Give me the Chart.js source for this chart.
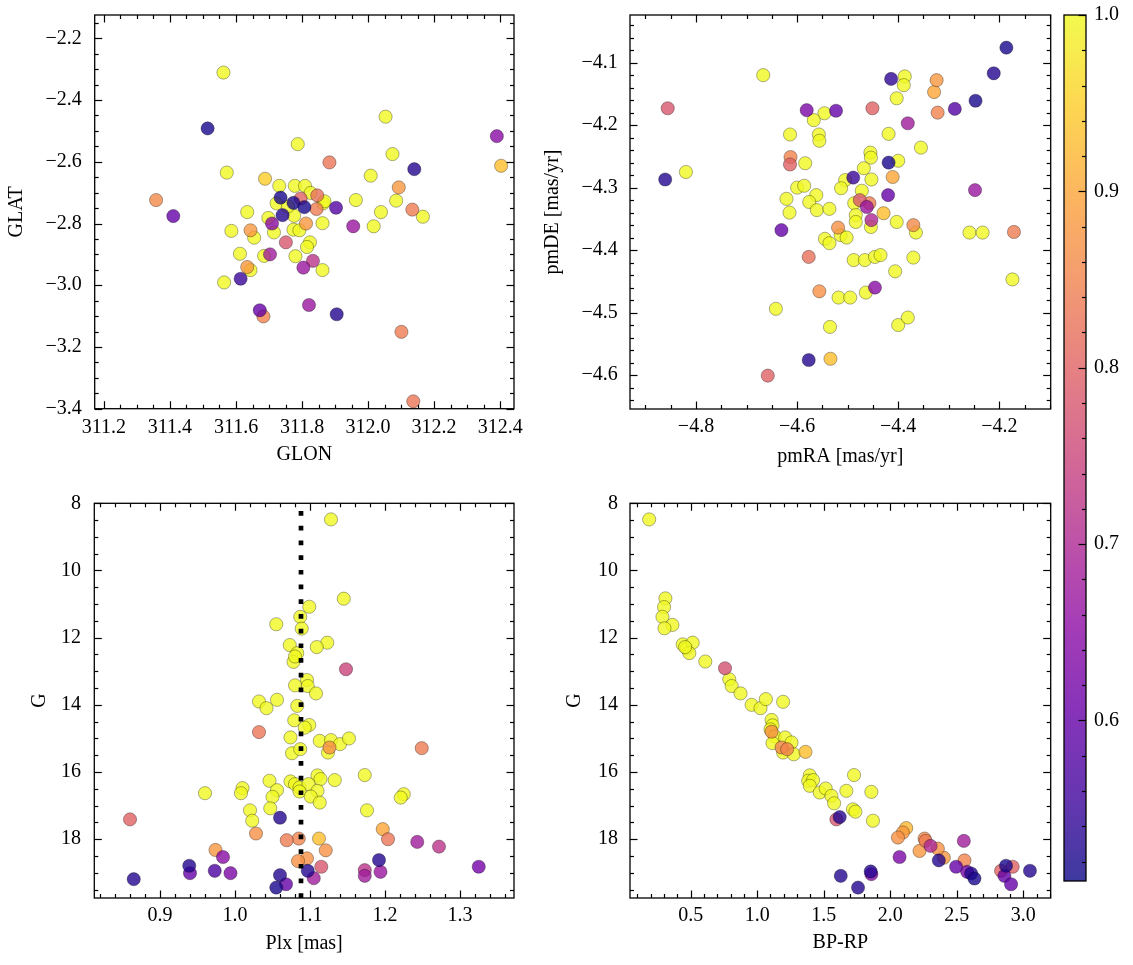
<!DOCTYPE html>
<html><head><meta charset="utf-8">
<script src="https://cdn.jsdelivr.net/npm/chart.js@4.4.0/dist/chart.umd.min.js"></script>
<style>
html,body{margin:0;padding:0;background:#fff;}
#wrap{position:relative;width:1133px;height:965px;overflow:hidden;background:#fff;}
canvas{position:absolute;}
</style></head><body>
<div id="wrap">
<canvas id="cA" width="530" height="470" style="left:0;top:0;width:530px;height:470px"></canvas>
<canvas id="cB" width="532" height="470" style="left:530px;top:0;width:532px;height:470px"></canvas>
<canvas id="cC" width="530" height="470" style="left:0;top:490px;width:530px;height:470px"></canvas>
<canvas id="cD" width="532" height="470" style="left:530px;top:490px;width:532px;height:470px"></canvas>
<canvas id="cCB" width="78" height="965" style="left:1055px;top:0;width:78px;height:965px"></canvas>
</div>
<script>
// ---------- data ----------
const glon = [311.562,311.514,312.053,311.787,312.390,312.403,312.074,311.883,312.140,311.572,312.008,311.688,311.731,311.778,311.809,312.093,311.358,311.846,311.864,311.963,312.085,311.723,311.634,311.776,312.039,312.166,311.862,311.698,311.796,311.844,312.134,311.735,311.774,311.807,311.903,311.410,311.741,311.709,311.812,311.955,312.017,311.586,311.655,311.644,311.715,311.774,311.792,311.751,311.824,311.815,311.612,311.685,311.703,311.780,311.833,311.862,311.804,311.644,311.634,311.564,311.614,311.683,311.672,311.821,311.905,312.101,312.137,311.826,311.868,311.757];
const glat = [-2.311,-2.492,-2.454,-2.543,-2.517,-2.613,-2.575,-2.602,-2.624,-2.635,-2.645,-2.655,-2.678,-2.678,-2.678,-2.683,-2.724,-2.709,-2.735,-2.724,-2.726,-2.735,-2.763,-2.775,-2.763,-2.778,-2.799,-2.782,-2.719,-2.753,-2.755,-2.716,-2.733,-2.747,-2.749,-2.776,-2.773,-2.800,-2.800,-2.809,-2.809,-2.824,-2.846,-2.822,-2.829,-2.820,-2.822,-2.861,-2.861,-2.876,-2.898,-2.905,-2.900,-2.906,-2.921,-2.951,-2.943,-2.951,-2.941,-2.991,-2.979,-3.101,-3.081,-3.064,-3.094,-3.151,-3.376,-2.701,-2.728,-2.745];
const probA = [1,0.52,1,1,0.65,0.93,1,0.83,0.53,1,1,0.95,1,1,1,0.88,0.86,0.82,1,1,1,1,1,1,1,1,1,1,0.8,0.84,0.84,0.52,0.52,0.52,0.58,0.6,0.53,0.65,0.88,0.67,1,1,1,0.88,1,1,1,0.78,1,1,1,1,0.68,1,0.72,1,0.67,1,0.88,1,0.55,0.85,0.6,0.67,0.53,0.84,0.83,1,1,1];

const pmra = [-4.186,-4.211,-4.667,-4.414,-4.387,-4.389,-4.324,-4.329,-4.247,-4.403,-4.856,-4.581,-4.523,-4.546,-4.567,-4.451,-4.288,-4.322,-4.381,-4.614,-4.557,-4.556,-4.419,-4.355,-4.613,-4.614,-4.584,-4.455,-4.454,-4.419,-4.400,-4.468,-4.820,-4.861,-4.489,-4.505,-4.453,-4.411,-4.513,-4.600,-4.586,-4.621,-4.615,-4.562,-4.576,-4.561,-4.536,-4.472,-4.487,-4.420,-4.476,-4.457,-4.462,-4.429,-4.484,-4.484,-4.453,-4.454,-4.403,-4.631,-4.519,-4.514,-4.502,-4.545,-4.536,-4.370,-4.365,-4.259,-4.233,-4.171,-4.248,-4.577,-4.488,-4.466,-4.446,-4.435,-4.370,-4.406,-4.174,-4.556,-4.518,-4.495,-4.464,-4.446,-4.642,-4.535,-4.400,-4.381,-4.577,-4.534,-4.658];
const pmde = [-4.076,-4.117,-4.120,-4.126,-4.122,-4.136,-4.128,-4.147,-4.161,-4.157,-4.173,-4.176,-4.177,-4.181,-4.192,-4.173,-4.174,-4.180,-4.197,-4.215,-4.215,-4.225,-4.214,-4.236,-4.251,-4.263,-4.261,-4.244,-4.252,-4.260,-4.257,-4.269,-4.275,-4.287,-4.284,-4.288,-4.287,-4.283,-4.301,-4.300,-4.297,-4.318,-4.340,-4.312,-4.323,-4.336,-4.334,-4.305,-4.325,-4.312,-4.320,-4.325,-4.331,-4.341,-4.344,-4.355,-4.352,-4.363,-4.355,-4.368,-4.364,-4.376,-4.380,-4.382,-4.389,-4.360,-4.372,-4.372,-4.372,-4.371,-4.304,-4.411,-4.416,-4.416,-4.411,-4.408,-4.412,-4.434,-4.447,-4.466,-4.476,-4.476,-4.468,-4.460,-4.494,-4.523,-4.520,-4.508,-4.576,-4.574,-4.601];
const probB = [0.52,0.53,1,0.54,1,1,0.88,0.9,0.52,1,0.78,0.63,0.6,1,1,0.8,0.58,0.85,0.68,1,1,1,1,1,0.85,0.8,1,1,1,0.52,1,1,1,0.53,0.55,1,1,0.9,1,1,1,1,1,1,1,1,1,1,1,0.6,0.78,0.84,0.67,0.93,1,1,0.7,1,1,0.6,0.87,1,1,1,1,0.86,1,1,1,0.84,0.67,0.82,1,1,1,1,1,1,1,0.87,1,1,1,0.65,1,1,1,1,0.53,0.93,0.8];

const plx = [1.128,1.145,1.099,1.087,1.089,1.055,1.073,1.123,1.109,1.083,1.078,1.080,1.148,1.096,1.080,1.097,1.108,1.032,1.042,1.056,1.083,1.079,1.099,1.093,1.032,1.074,1.076,1.087,1.113,1.128,1.140,1.152,1.124,1.126,1.249,1.110,1.114,1.133,1.173,1.074,1.080,1.086,1.098,1.110,1.086,1.101,1.113,1.046,1.056,1.050,1.010,1.008,0.960,1.225,1.221,1.176,1.020,1.047,1.023,0.860,1.060,1.028,1.069,1.085,1.112,1.197,1.204,1.243,1.272,1.325,0.974,0.984,1.121,1.096,1.084,1.115,1.192,0.939,0.940,0.973,0.994,0.865,1.060,1.068,1.055,1.097,1.105,1.173,1.173,1.194];
const gmagC = [8.48,10.84,11.08,11.38,11.73,11.60,12.22,12.15,12.28,12.46,12.72,12.56,12.94,13.26,13.42,13.44,13.66,13.90,14.10,13.85,14.03,14.46,14.60,14.68,14.81,14.97,15.44,15.32,15.07,15.05,15.17,15.00,15.42,15.27,15.29,16.10,16.21,16.24,16.09,16.28,16.36,16.46,16.36,16.56,16.58,16.73,16.91,16.26,16.54,16.74,16.48,16.63,16.63,16.66,16.76,17.14,17.14,17.08,17.45,17.41,17.36,17.83,18.03,17.98,17.98,17.70,18.00,18.08,18.22,18.82,18.32,18.53,18.33,18.57,18.65,18.82,18.62,18.79,19.01,18.94,19.01,19.19,19.07,19.34,19.44,18.94,19.16,18.92,19.09,18.97];
const probC = [1,1,1,1,1,1,1,1,1,1,1,1,0.75,1,1,1,1,1,1,1,1,1,1,1,0.83,1,1,1,1,1,1,1,1,0.87,0.84,1,1,1,1,1,1,1,1,1,1,1,1,1,1,1,1,1,1,1,1,1,1,1,1,0.8,0.53,0.87,0.84,0.85,0.93,0.9,0.83,0.68,0.72,0.62,0.88,0.65,0.87,0.87,0.87,0.78,0.53,0.53,0.6,0.57,0.63,0.53,0.53,0.6,0.52,0.53,0.68,0.72,0.68,0.67];

const bprp = [0.188,0.310,0.300,0.288,0.363,0.303,0.440,0.470,0.515,0.490,0.458,0.610,0.758,0.790,0.808,0.875,0.958,1.025,1.065,1.195,1.108,1.115,1.100,1.108,1.133,1.210,1.115,1.258,1.183,1.225,1.195,1.275,1.363,1.395,1.383,1.420,1.395,1.470,1.515,1.558,1.578,1.670,1.728,1.720,1.738,1.858,1.870,1.595,1.620,2.120,2.095,2.058,2.258,2.265,2.303,2.220,2.358,2.403,2.365,2.070,2.553,2.558,2.495,2.578,2.608,2.633,1.628,1.758,1.853,1.858,2.833,2.920,2.870,2.858,2.908,3.050];
const gmagD = [8.48,10.83,11.09,11.38,11.62,11.72,12.20,12.32,12.15,12.46,12.28,12.71,12.91,13.24,13.44,13.66,14.00,14.10,13.83,13.91,14.45,14.61,14.73,14.80,14.94,14.97,15.14,15.12,15.27,15.32,15.42,15.47,15.40,16.10,16.26,16.24,16.41,16.61,16.49,16.71,16.93,16.56,16.09,17.11,17.18,16.59,17.45,17.41,17.34,17.67,17.80,17.95,17.98,18.05,18.20,18.35,18.28,18.55,18.63,18.53,18.05,18.63,18.82,18.97,19.02,19.17,19.09,19.44,18.96,19.04,18.94,18.82,18.79,19.09,19.34,18.94];
const probD = [1,1,1,1,1,1,1,1,1,1,1,1,0.77,1,1,1,1,1,1,1,1,1,1,0.87,1,1,1,1,0.86,0.85,1,1,0.93,1,1,1,1,1,1,1,1,1,1,1,1,1,1,0.78,0.53,0.92,0.88,0.87,0.86,0.84,0.7,0.88,0.87,0.88,0.53,0.63,0.68,0.85,0.6,0.62,0.53,0.52,0.53,0.53,0.53,0.65,0.8,0.8,0.52,0.6,0.6,0.53];

const plxRef = 1.088;           // dotted reference parallax
const probRange = [0.509, 1.0]; // colour scale limits

// tick labels
const glonTicks = [311.2,311.4,311.6,311.8,312.0,312.2,312.4];
const glatTicks = [-3.4,-3.2,-3.0,-2.8,-2.6,-2.4,-2.2];
const pmraTicks = [-4.8,-4.6,-4.4,-4.2];
const pmdeTicks = [-4.6,-4.5,-4.4,-4.3,-4.2,-4.1];
const plxTicks = [0.9,1.0,1.1,1.2,1.3];
const gTicks = [8,10,12,14,16,18];
const bprpTicks = [0.5,1.0,1.5,2.0,2.5,3.0];
const probTicks = [0.6,0.7,0.8,0.9,1.0];

// ---------- helpers ----------
const plasmaStops = ['#0d0887','#41049d','#6a00a8','#8f0da4','#b12a90','#cc4778','#e16462','#f2844b','#fca636','#fcce25','#f0f921'].map(h=>[parseInt(h.slice(1,3),16),parseInt(h.slice(3,5),16),parseInt(h.slice(5,7),16)]);
function plasma(t, a){
  t = Math.max(0, Math.min(1, t));
  const s = t*10, i = Math.min(9, Math.floor(s)), f = s - i;
  const c0 = plasmaStops[i], c1 = plasmaStops[i+1];
  const c = c0.map((v,k)=>Math.round(v + (c1[k]-v)*f));
  return `rgba(${c[0]},${c[1]},${c[2]},${a})`;
}
const norm = p => (p - probRange[0])/(probRange[1]-probRange[0]);
const ALPHA = 0.8;
const FONT = {family:'"Liberation Serif", "DejaVu Serif", serif', size:20, lineHeight:1.2};
const minus = v => (v < 0 ? '\u2212' : '') + Math.abs(v).toFixed(1);
const intf = v => String(Math.round(v));

function buildPoints(xs, ys, ps){
  const idx = xs.map((_,i)=>i).sort((a,b)=>ps[b]-ps[a]);
  return {
    data: idx.map(i=>({x:xs[i], y:ys[i]})),
    colors: idx.map(i=>plasma(norm(ps[i]), ALPHA))
  };
}

const frameTicks = {
  id:'frameTicks',
  afterDatasetsDraw(chart, args, o){
    const {ctx, chartArea:a} = chart;
    ctx.save();
    ctx.strokeStyle = '#000';
    ctx.lineWidth = 1.2;
    const minorVals = (scale, step) => {
      const out = [];
      const lo = Math.min(scale.min, scale.max), hi = Math.max(scale.min, scale.max);
      const k0 = Math.ceil(lo/step - 1e-9), k1 = Math.floor(hi/step + 1e-9);
      const majors = scale.ticks.map(t=>t.value);
      for (let k=k0;k<=k1;k++){
        const v = k*step;
        if (!majors.some(m=>Math.abs(m-v) < step*1e-3)) out.push(v);
      }
      return out;
    };
    const line = (x1,y1,x2,y2)=>{ctx.beginPath();ctx.moveTo(x1,y1);ctx.lineTo(x2,y2);ctx.stroke();};
    const MJ = 7.5, MN = 4;
    for (const ax of o.axes){
      const sc = chart.scales[ax.id];
      const majors = sc.ticks.map(t=>t.value);
      const minors = minorVals(sc, ax.minor);
      const sets = [[majors, MJ],[minors, MN]];
      for (const [vals, len] of sets){
        for (const v of vals){
          const p = Math.round(sc.getPixelForValue(v)) + 0.5;
          if (sc.isHorizontal()){
            if (ax.sides.includes('bottom')) line(p, a.bottom, p, a.bottom-len);
            if (ax.sides.includes('top')) line(p, a.top, p, a.top+len);
          } else {
            if (ax.sides.includes('left')) line(a.left, p, a.left+len, p);
            if (ax.sides.includes('right')) line(a.right, p, a.right-len, p);
          }
        }
      }
    }
    ctx.lineWidth = 1.3;
    ctx.strokeRect(a.left, a.top, a.right-a.left, a.bottom-a.top);
    ctx.restore();
  }
};

function scatterChart(id, c){
  const pts = buildPoints(c.xs, c.ys, c.ps);
  const datasets = [{
    type:'scatter', data:pts.data, backgroundColor:pts.colors,
    borderColor:'rgba(0,0,0,0.45)', borderWidth:0.7, pointRadius:6.6, order:1
  }];
  if (c.extra) datasets.push(c.extra);
  return new Chart(document.getElementById(id), {
    type:'scatter',
    data:{datasets},
    options:{
      responsive:false, animation:false, events:[],
      layout:{padding:c.pad},
      plugins:{legend:{display:false}, tooltip:{enabled:false},
        frameTicks:{axes:[{id:'x',minor:c.xMinor,sides:['bottom','top']},{id:'y',minor:c.yMinor,sides:['left','right']}]}},
      scales:{
        x:{type:'linear', min:c.xr[0], max:c.xr[1],
          afterBuildTicks:s=>{s.ticks = c.xTicks.map(v=>({value:v}));},
          afterFit:s=>{s.height = c.xh; s.paddingLeft = 0; s.paddingRight = 0; s.paddingTop = 0; s.paddingBottom = 0;},
          grid:{display:false, drawTicks:false}, border:{display:false},
          ticks:{padding:c.xtp, font:FONT, color:'#000', callback:c.xfmt, maxRotation:0, autoSkip:false},
          title:{display:true, text:c.xlabel, font:FONT, color:'#000', padding:{top:0,bottom:c.xpb}}},
        y:{type:'linear', min:c.yr[0], max:c.yr[1], reverse:!!c.yrev,
          afterBuildTicks:s=>{s.ticks = c.yTicks.map(v=>({value:v}));},
          afterFit:s=>{s.width = c.yw; s.paddingTop = 0; s.paddingBottom = 0; s.paddingLeft = 0; s.paddingRight = 0;},
          grid:{display:false, drawTicks:false}, border:{display:false},
          ticks:{padding:c.ytp, font:FONT, color:'#000', callback:c.yfmt, autoSkip:false},
          title:{display:true, text:c.ylabel, font:FONT, color:'#000', padding:{top:c.ypt,bottom:0}}}
      }
    },
    plugins:[frameTicks]
  });
}

scatterChart('cA', {xs:glon, ys:glat, ps:probA, pad:{top:15,right:16,left:0,bottom:0},
  xr:[311.172,312.442], yr:[-3.4,-2.1245], xTicks:glonTicks, yTicks:glatTicks, xMinor:0.05, yMinor:0.05,
  xh:61.3, yw:94.7, xtp:7, ytp:13, xpb:3, ypt:5, xfmt:minus, yfmt:minus, xlabel:'GLON', ylabel:'GLAT'});

scatterChart('cB', {xs:pmra, ys:pmde, ps:probB, pad:{top:15,right:11.3,left:0,bottom:0},
  xr:[-4.9306,-4.0983], yr:[-4.6544,-4.0237], xTicks:pmraTicks, yTicks:pmdeTicks, xMinor:0.05, yMinor:0.02,
  xh:61, yw:100, xtp:6, ytp:12.3, xpb:1, ypt:11, xfmt:minus, yfmt:minus, xlabel:'pmRA [mas/yr]', ylabel:'pmDE [mas/yr]'});

scatterChart('cC', {xs:plx, ys:gmagC, ps:probC, pad:{top:13.3,right:16,left:0,bottom:0},
  xr:[0.8124,1.372], yr:[8,19.75], yrev:true, xTicks:plxTicks, yTicks:gTicks, xMinor:0.02, yMinor:0.5,
  xh:62, yw:94.3, xtp:5.5, ytp:13.3, xpb:4.3, ypt:28, xfmt:minus, yfmt:intf, xlabel:'Plx [mas]', ylabel:'G',
  extra:{type:'line', data:[{x:plxRef,y:19.75},{x:plxRef,y:8}], borderColor:'#000', borderWidth:4.7,
    borderDash:[4.7,10], borderCapStyle:'butt', pointRadius:0, fill:false, order:0}});

scatterChart('cD', {xs:bprp, ys:gmagD, ps:probD, pad:{top:13.3,right:11.3,left:0,bottom:0},
  xr:[0.044,3.206], yr:[8,19.75], yrev:true, xTicks:bprpTicks, yTicks:gTicks, xMinor:0.1, yMinor:0.5,
  xh:62, yw:100, xtp:5.5, ytp:12, xpb:5.5, ypt:33, xfmt:minus, yfmt:intf, xlabel:'BP-RP', ylabel:'G'});

// ---------- colour bar ----------
new Chart(document.getElementById('cCB'), {
  type:'bar',
  data:{labels:['p'], datasets:[{
    data:[[probRange[0], probRange[1]]], barPercentage:1, categoryPercentage:1, borderWidth:0,
    backgroundColor:(ctx)=>{
      const ch = ctx.chart, ys = ch.scales.y;
      if (!ch.chartArea || !ys) return plasma(1, ALPHA);
      const g = ch.ctx.createLinearGradient(0, ys.getPixelForValue(probRange[0]), 0, ys.getPixelForValue(probRange[1]));
      for (let i=0;i<=50;i++) g.addColorStop(i/50, plasma(i/50, ALPHA));
      return g;
    }
  }]},
  options:{
    responsive:false, animation:false, events:[],
    layout:{padding:{top:15,left:9,right:0,bottom:84}},
    plugins:{legend:{display:false}, tooltip:{enabled:false},
      frameTicks:{axes:[{id:'y',minor:0.02,sides:['right']}]}},
    scales:{
      x:{display:false},
      y:{position:'right', type:'linear', min:probRange[0], max:probRange[1],
        afterBuildTicks:s=>{s.ticks = probTicks.map(v=>({value:v}));},
        afterFit:s=>{s.width = 47; s.paddingTop = 0; s.paddingBottom = 0;},
        grid:{display:false, drawTicks:false}, border:{display:false},
        ticks:{padding:8, font:FONT, color:'#000', callback:minus, autoSkip:false}}
    }
  },
  plugins:[frameTicks]
});
</script>
</body></html>
